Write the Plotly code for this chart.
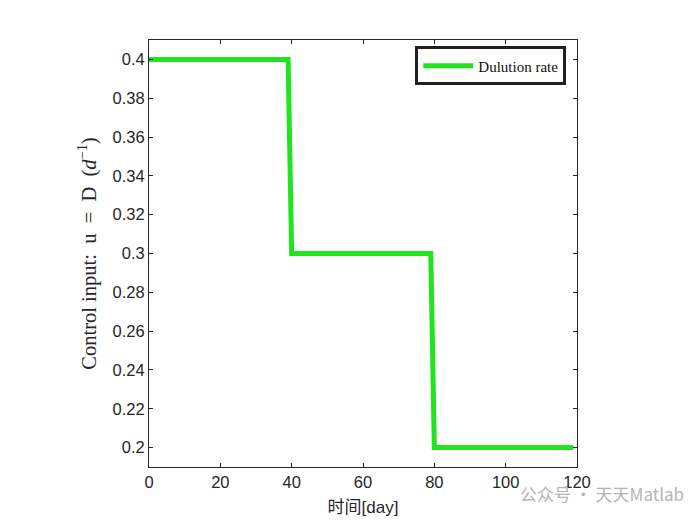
import plotly.graph_objects as go

# step input: dilution rate over time (days)
t_days = [0, 39, 40, 79, 80, 119]
dilution = [0.4, 0.4, 0.3, 0.3, 0.2, 0.2]

y_ticks = [0.2, 0.22, 0.24, 0.26, 0.28, 0.3, 0.32, 0.34, 0.36, 0.38, 0.4]
x_ticks = [0, 20, 40, 60, 80, 100, 120]

SERIF = "Liberation Serif, DejaVu Serif, serif"
SANS = "Liberation Sans, Arial, Noto Sans CJK SC, sans-serif"

fig = go.Figure()
fig.add_trace(go.Scatter(
    x=t_days, y=dilution, mode='lines',
    line=dict(color='#1fe41f', width=5),
    name='Dulution rate',
))

axis_common = dict(
    showgrid=False, zeroline=False, showline=True, linecolor='#262626',
    linewidth=1, mirror='ticks', ticks='inside', ticklen=4, tickcolor='#262626',
    tickfont=dict(family=SANS, size=16.5, color='#262626'),
)

fig.update_layout(
    width=700, height=525,
    paper_bgcolor='white', plot_bgcolor='white',
    margin=dict(l=141, r=131, t=32, b=66),
    showlegend=True,
    legend=dict(
        x=0.975, y=0.985, xanchor='right', yanchor='top',
        bgcolor='white', bordercolor='#202020', borderwidth=3,
        font=dict(family=SERIF, size=15, color='#111111'),
        itemwidth=50, tracegroupgap=0,
    ),
    xaxis=dict(
        range=[0, 120], tickvals=x_ticks,
        title=dict(text='时间[day]', font=dict(family=SANS, size=17, color='#262626'),
                   standoff=11),
        **axis_common,
    ),
    yaxis=dict(
        range=[0.19, 0.41], tickvals=y_ticks,
        title=dict(text='Control input:  u  =  D  (<i>d</i><sup>−1</sup>)',
                   font=dict(family=SERIF, size=20.5, color='#262626'), standoff=10),
        **axis_common,
    ),
)

# watermark seen at bottom right of the source image
fig.add_annotation(
    text='公众号 · 天天Matlab', xref='paper', yref='paper',
    x=1.255, y=-0.095, xanchor='right', yanchor='bottom', showarrow=False,
    font=dict(family='Noto Sans CJK SC, sans-serif', size=17, color='#b4b4b4'),
)

fig.write_html("out.html")
